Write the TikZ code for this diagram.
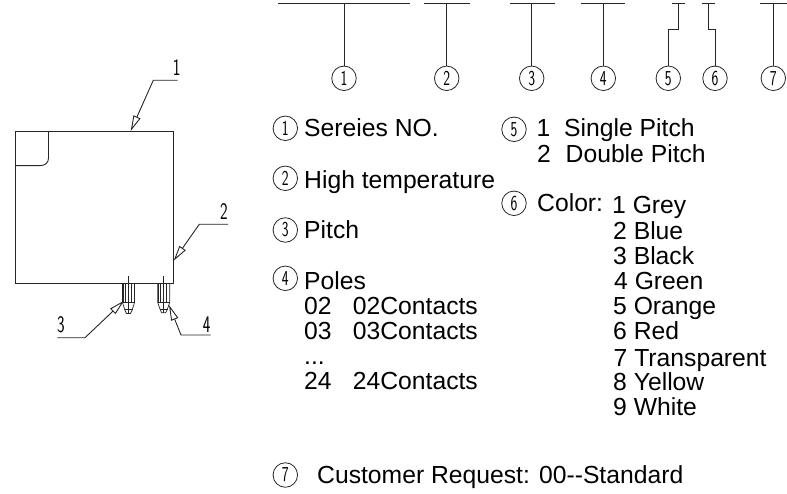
\documentclass[tikz,border=0pt]{standalone}
\usepackage{fontspec}
\usepackage{graphicx}
\setmainfont{Liberation Sans}
\usetikzlibrary{arrows.meta}
\tikzset{
  cad/.style={line width=0.9pt,draw=black!85},
  lead/.style={cad,{Triangle[open,fill=white,length=15.5pt,width=7.5pt]}-},
  txt/.style={anchor=base west,inner sep=0pt,font=\fontsize{24.7}{26}\selectfont,text=black},
  num/.style={circle,draw=black!85,line width=0.8pt,minimum size=24.5pt,inner sep=0pt,font=\fontsize{17}{17}\selectfont\sffamily},
  cadlabel/.style={inner sep=0pt,font=\fontsize{19}{19}\selectfont\sffamily}
}
\newcommand{\cadn}[1]{\scalebox{0.85}[1.25]{#1}}
\begin{document}
\begin{tikzpicture}[x=1pt,y=-1pt]
\useasboundingbox (0,0) rectangle (787,494);
% body
\draw[cad] (15.7,131) rectangle (173.7,283.7);
\draw[cad] (48.5,131) -- (48.5,158) .. controls (48.5,163) and (45,165.6) .. (40,165.6) -- (15.7,165.6);
% pins
\foreach \c/\b in {128.5/313.5,163.7/312.7}{
  \draw[cad,line width=0.7pt] (\c,276) -- (\c,\b);
  \draw[cad,line width=0.7pt] (\c-6,283.7) -- (\c-6,302.5) -- (\c-3.5,\b-3) -- (\c-2,\b) -- (\c+2,\b) -- (\c+3.5,\b-3) -- (\c+6,302.5) -- (\c+6,283.7);
  \draw[cad,line width=0.7pt] (\c-5,283.7) -- (\c-5,302.5);
  \draw[cad,line width=0.7pt] (\c-3,283.7) -- (\c-3,302.5);
  \draw[cad,line width=0.7pt] (\c+3,283.7) -- (\c+3,302.5);
  \draw[cad,line width=0.7pt] (\c-6,302.5) -- (\c+6,302.5);
  \draw[cad,line width=0.7pt] (\c-4,309.3) -- (\c+4,309.3);
}
% leaders
\coordinate (t1) at (130.7,131);
\coordinate (t2) at (173.7,260.7);
\coordinate (t3) at (124,300.7);
\coordinate (t4) at (169,305);
\coordinate (k1) at (153.3,80.3);
\coordinate (e1) at (177.7,80.3);
\coordinate (k2) at (199.3,224.3);
\coordinate (e2) at (228,224.3);
\coordinate (k3) at (85,337.7);
\coordinate (e3) at (57.3,337.7);
\coordinate (k4) at (181,335);
\coordinate (e4) at (210.7,335);
\draw[lead] (t1) -- (k1) -- (e1);
\draw[lead] (t2) -- (k2) -- (e2);
\draw[lead] (t3) -- (k3) -- (e3);
\draw[lead] (t4) -- (k4) -- (e4);
\node[cadlabel] (l1) at (176.7,68) {\cadn{1}};
\node[cadlabel] (l2) at (224,212) {\cadn{2}};
\node[cadlabel] (l3) at (61,325) {\cadn{3}};
\node[cadlabel] (l4) at (206.7,325) {\cadn{4}};
% top code
\node[num] (c1) at (344,78.3) {\cadn{1}};
\node[num] (c2) at (446.7,78.3) {\cadn{2}};
\node[num] (c3) at (531.7,78.3) {\cadn{3}};
\node[num] (c4) at (603.3,78.3) {\cadn{4}};
\node[num] (c5) at (668.3,78.3) {\cadn{5}};
\node[num] (c6) at (715,78.3) {\cadn{6}};
\node[num] (c7) at (773.3,78.3) {\cadn{7}};
\coordinate (b1) at (344,3.7);
\coordinate (b2) at (446.7,3.7);
\coordinate (b3) at (531.7,3.7);
\coordinate (b4) at (603.3,3.7);
\coordinate (b5) at (678.3,3.7);
\coordinate (b6) at (708.3,3.7);
\coordinate (b7) at (773.3,3.7);
\draw[cad] (278.3,3.7) -- (410,3.7);
\draw[cad] (424.3,3.7) -- (470,3.7);
\draw[cad] (510,3.7) -- (555,3.7);
\draw[cad] (581,3.7) -- (625,3.7);
\draw[cad] (671.7,3.7) -- (685,3.7);
\draw[cad] (701.7,3.7) -- (715,3.7);
\draw[cad] (760.3,3.7) -- (786.7,3.7);
\draw[cad] (b1) -- (c1);
\draw[cad] (b2) -- (c2);
\draw[cad] (b3) -- (c3);
\draw[cad] (b4) -- (c4);
\draw[cad] (b5) -- (678.3,29) -- (668.3,29) -- (c5);
\draw[cad] (b6) -- (708.3,29) -- (715,29) -- (c6);
\draw[cad] (b7) -- (c7);
% legend
\node[num] (n1) at (285.3,128.3) {\cadn{1}};
\node[num] (n2) at (285.3,178.3) {\cadn{2}};
\node[num] (n3) at (285.3,230) {\cadn{3}};
\node[num] (n4) at (285.3,278.3) {\cadn{4}};
\node[num] (n5) at (514,129.3) {\cadn{5}};
\node[num] (n6) at (514,203.3) {\cadn{6}};
\node[num] (n7) at (285.3,475) {\cadn{7}};
\node[txt] (a1) at (304,136.7) {Sereies NO.};
\node[txt] (a2) at (304,188.7) {High temperature};
\node[txt] (a3) at (304,238.7) {Pitch};
\node[txt] (a4) at (304,289.3) {Poles};
\node[txt] (p1a) at (304,314) {02};
\node[txt] (p1b) at (352.7,314) {02Contacts};
\node[txt] (p2a) at (304,339) {03};
\node[txt] (p2b) at (352.7,339) {03Contacts};
\node[txt] (p3) at (304,364) {...};
\node[txt] (p4a) at (304,389) {24};
\node[txt] (p4b) at (352.7,389) {24Contacts};
\node[txt] (s1a) at (536.5,136.7) {1};
\node[txt] (s1b) at (564,136.7) {Single Pitch};
\node[txt] (s2a) at (537,162.7) {2};
\node[txt] (s2b) at (565.5,162.7) {Double Pitch};
\node[txt] (col) at (537,211.7) {Color:};
\node[txt] (g1) at (612,214) {1 Grey};
\node[txt] (g2) at (613,240) {2 Blue};
\node[txt] (g3) at (613,264.3) {3 Black};
\node[txt] (g4) at (614,289.3) {4 Green};
\node[txt] (g5) at (613,314.3) {5 Orange};
\node[txt] (g6) at (613,339.3) {6 Red};
\node[txt] (g7) at (613.5,366) {7 Transparent};
\node[txt] (g8) at (613,390.7) {8 Yellow};
\node[txt] (g9) at (613,415.7) {9 White};
\node[txt] (cr) at (317,483.3) {Customer Request: 00-{}-Standard};
\end{tikzpicture}
\end{document}
